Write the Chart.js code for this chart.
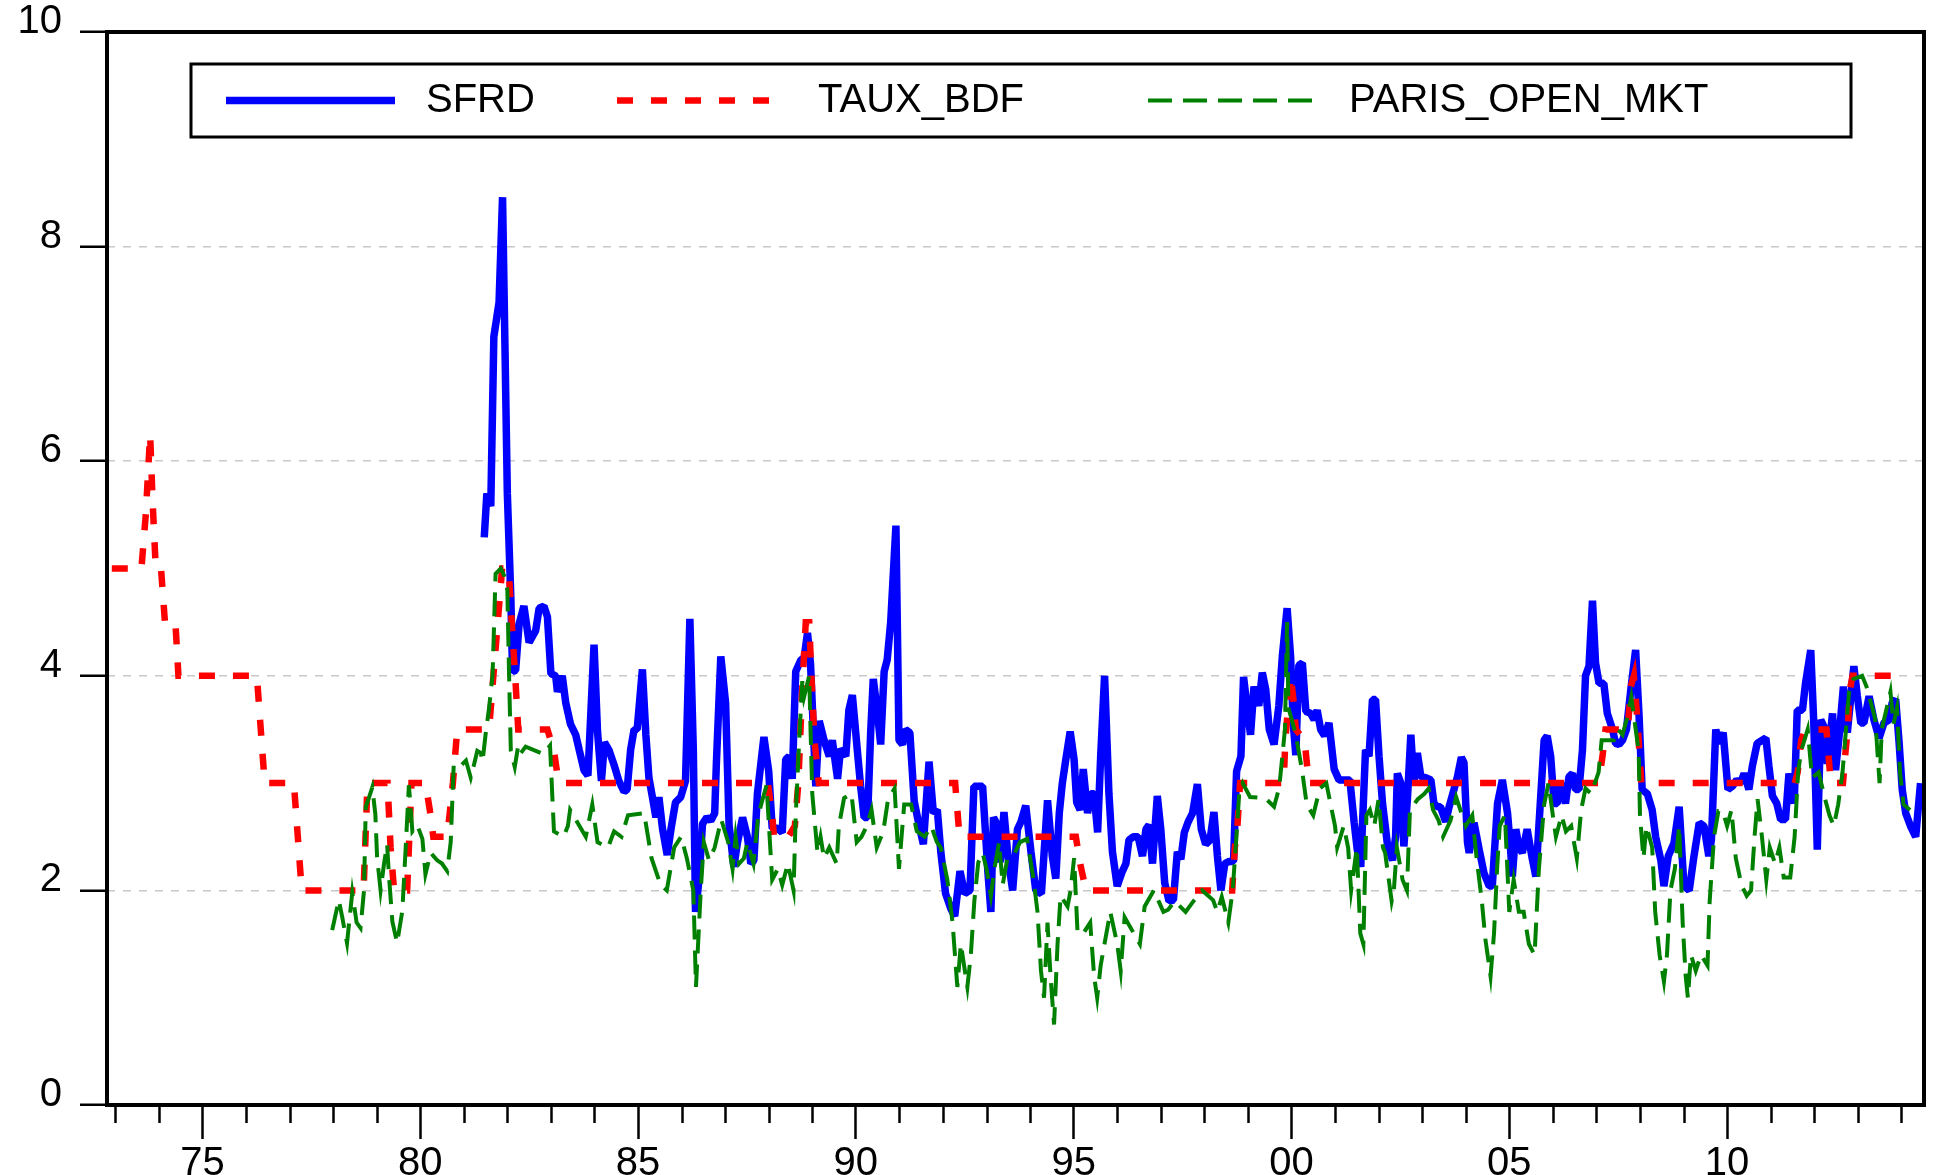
<!DOCTYPE html>
<html lang="en">
<head>
    <meta charset="UTF-8">
    <title>SFRD / TAUX_BDF / PARIS_OPEN_MKT</title>
    <script src="https://cdn.jsdelivr.net/npm/chart.js"></script>
    <style>
        body { margin: 0; background: #ffffff; }
        canvas { display: block; }
    </style>
</head>
<body>
    <canvas id="rateChart" width="1935" height="1175"></canvas>
    <script>
        // observation dates are decimal years, values in percent
        const sfrdDates = [
            1981.47, 1981.53, 1981.62, 1981.69, 1981.81, 1981.89, 1982.00, 1982.08, 1982.12, 1982.19,
            1982.27, 1982.38, 1982.50, 1982.65, 1982.73, 1982.84, 1982.92, 1983.00, 1983.11, 1983.15,
            1983.26, 1983.34, 1983.45, 1983.57, 1983.65, 1983.76, 1983.85, 1983.99, 1984.07, 1984.16,
            1984.23, 1984.33, 1984.45, 1984.56, 1984.68, 1984.75, 1984.83, 1984.91, 1984.98, 1985.10,
            1985.18, 1985.25, 1985.33, 1985.41, 1985.48, 1985.56, 1985.67, 1985.76, 1985.86, 1985.98,
            1986.09, 1986.19, 1986.27, 1986.32, 1986.40, 1986.48, 1986.58, 1986.67, 1986.76, 1986.80,
            1986.90, 1987.01, 1987.09, 1987.20, 1987.28, 1987.40, 1987.51, 1987.59, 1987.66, 1987.74,
            1987.89, 1988.00, 1988.08, 1988.20, 1988.31, 1988.39, 1988.47, 1988.54, 1988.62, 1988.74,
            1988.81, 1988.89, 1988.96, 1989.08, 1989.16, 1989.27, 1989.39, 1989.46, 1989.58, 1989.65,
            1989.77, 1989.84, 1989.92, 1990.04, 1990.11, 1990.19, 1990.27, 1990.34, 1990.40, 1990.49,
            1990.57, 1990.65, 1990.72, 1990.80, 1990.92, 1990.99, 1991.07, 1991.14, 1991.24, 1991.34,
            1991.45, 1991.55, 1991.68, 1991.78, 1991.87, 1991.95, 1992.06, 1992.18, 1992.27, 1992.39,
            1992.50, 1992.62, 1992.71, 1992.91, 1993.03, 1993.10, 1993.16, 1993.25, 1993.31, 1993.40,
            1993.50, 1993.60, 1993.71, 1993.79, 1993.90, 1994.02, 1994.13, 1994.26, 1994.40, 1994.51,
            1994.59, 1994.67, 1994.74, 1994.82, 1994.92, 1995.01, 1995.07, 1995.15, 1995.22, 1995.32,
            1995.39, 1995.47, 1995.55, 1995.62, 1995.71, 1995.81, 1995.89, 1996.00, 1996.12, 1996.20,
            1996.27, 1996.37, 1996.48, 1996.58, 1996.66, 1996.73, 1996.81, 1996.92, 1997.00, 1997.09,
            1997.19, 1997.29, 1997.38, 1997.46, 1997.54, 1997.63, 1997.73, 1997.84, 1997.93, 1998.03,
            1998.13, 1998.22, 1998.30, 1998.38, 1998.47, 1998.57, 1998.67, 1998.74, 1998.84, 1998.90,
            1998.99, 1999.06, 1999.14, 1999.25, 1999.33, 1999.41, 1999.49, 1999.60, 1999.71, 1999.79,
            1999.90, 1999.98, 2000.04, 2000.10, 2000.17, 2000.25, 2000.33, 2000.44, 2000.52, 2000.59,
            2000.67, 2000.76, 2000.86, 2000.98, 2001.09, 2001.24, 2001.34, 2001.44, 2001.51, 2001.59,
            2001.70, 2001.78, 2001.86, 2001.93, 2002.01, 2002.09, 2002.20, 2002.32, 2002.39, 2002.43,
            2002.51, 2002.58, 2002.66, 2002.74, 2002.81, 2002.89, 2002.97, 2003.08, 2003.20, 2003.27,
            2003.35, 2003.42, 2003.54, 2003.62, 2003.73, 2003.81, 2003.90, 2003.96, 2004.04, 2004.08,
            2004.19, 2004.31, 2004.42, 2004.54, 2004.61, 2004.73, 2004.84, 2004.96, 2005.03, 2005.07,
            2005.15, 2005.22, 2005.30, 2005.41, 2005.53, 2005.61, 2005.68, 2005.80, 2005.87, 2005.95,
            2006.03, 2006.10, 2006.18, 2006.29, 2006.37, 2006.45, 2006.52, 2006.60, 2006.68, 2006.75,
            2006.83, 2006.91, 2006.98, 2007.06, 2007.17, 2007.25, 2007.37, 2007.44, 2007.52, 2007.60,
            2007.69, 2007.79, 2007.90, 2007.98, 2008.05, 2008.17, 2008.28, 2008.36, 2008.48, 2008.55,
            2008.65, 2008.78, 2008.90, 2009.01, 2009.13, 2009.24, 2009.36, 2009.47, 2009.58, 2009.64,
            2009.74, 2009.81, 2009.91, 2010.02, 2010.12, 2010.22, 2010.31, 2010.39, 2010.50, 2010.58,
            2010.69, 2010.77, 2010.89, 2010.96, 2011.04, 2011.14, 2011.23, 2011.34, 2011.42, 2011.54,
            2011.61, 2011.73, 2011.80, 2011.92, 2011.99, 2012.07, 2012.15, 2012.22, 2012.30, 2012.42,
            2012.49, 2012.57, 2012.67, 2012.76, 2012.91, 2012.99, 2013.07, 2013.14, 2013.26, 2013.37,
            2013.49, 2013.60, 2013.72, 2013.79, 2013.87, 2013.95, 2014.02, 2014.10, 2014.21, 2014.33,
            2014.44
        ];
        const sfrdValues = [
            5.29, 5.70, 5.58, 7.16, 7.48, 8.46, 5.70, 4.73, 4.04, 4.05,
            4.48, 4.65, 4.31, 4.42, 4.63, 4.65, 4.55, 4.02, 4.00, 3.85,
            4.00, 3.75, 3.55, 3.45, 3.31, 3.12, 3.07, 4.29, 3.48, 3.02,
            3.38, 3.31, 3.17, 3.02, 2.92, 2.94, 3.31, 3.50, 3.50, 4.06,
            3.45, 3.05, 2.87, 2.68, 2.87, 2.58, 2.33, 2.58, 2.82, 2.87,
            3.02, 4.53, 3.30, 1.80, 2.10, 2.62, 2.68, 2.65, 2.72, 3.20,
            4.18, 3.75, 2.61, 2.22, 2.44, 2.68, 2.50, 2.25, 2.28, 2.90,
            3.43, 3.11, 2.58, 2.58, 2.54, 3.22, 3.25, 3.04, 4.04, 4.15,
            4.16, 4.40, 4.11, 2.97, 3.58, 3.40, 3.25, 3.40, 3.04, 3.32,
            3.25, 3.68, 3.82, 3.28, 2.97, 2.68, 2.68, 3.47, 3.97, 3.68,
            3.36, 4.04, 4.15, 4.50, 5.40, 3.40, 3.36, 3.50, 3.47, 2.83,
            2.61, 2.43, 3.20, 2.72, 2.75, 2.36, 1.97, 1.83, 1.76, 2.18,
            1.97, 2.00, 2.97, 2.97, 2.18, 1.80, 2.68, 2.61, 2.26, 2.73,
            2.28, 2.00, 2.57, 2.64, 2.79, 2.36, 2.00, 1.97, 2.84, 2.32,
            2.11, 2.72, 3.00, 3.22, 3.48, 3.22, 2.82, 2.75, 3.13, 2.72,
            2.90, 2.90, 2.54, 3.25, 4.00, 2.90, 2.36, 2.04, 2.18, 2.25,
            2.47, 2.50, 2.50, 2.32, 2.57, 2.61, 2.25, 2.88, 2.57, 2.07,
            1.90, 1.91, 2.36, 2.29, 2.54, 2.64, 2.72, 2.99, 2.57, 2.43,
            2.47, 2.73, 2.32, 2.00, 2.25, 2.27, 2.27, 3.11, 3.25, 3.99,
            3.68, 3.45, 3.90, 3.72, 4.03, 3.87, 3.50, 3.36, 3.72, 4.18,
            4.63, 4.18, 3.56, 3.26, 4.10, 4.12, 3.67, 3.65, 3.59, 3.68,
            3.50, 3.44, 3.56, 3.13, 3.03, 3.03, 3.03, 2.63, 2.38, 2.22,
            3.31, 3.25, 3.78, 3.78, 3.25, 2.81, 2.44, 2.28, 2.50, 3.09,
            3.00, 2.41, 2.84, 3.45, 3.00, 3.28, 3.06, 3.05, 3.03, 2.81,
            2.78, 2.78, 2.64, 2.78, 2.94, 3.06, 3.24, 3.19, 2.45, 2.35,
            2.63, 2.38, 2.16, 2.04, 2.04, 2.81, 3.03, 2.72, 2.38, 2.13,
            2.57, 2.41, 2.35, 2.57, 2.29, 2.13, 2.60, 3.40, 3.44, 3.25,
            2.81, 2.81, 3.00, 2.81, 3.06, 3.09, 2.94, 2.94, 3.31, 4.00,
            4.09, 4.70, 4.12, 3.93, 3.93, 3.65, 3.50, 3.37, 3.36, 3.40,
            3.50, 3.87, 4.24, 3.62, 2.94, 2.90, 2.75, 2.50, 2.28, 2.04,
            2.32, 2.44, 2.78, 2.04, 2.00, 2.32, 2.63, 2.60, 2.32, 2.47,
            3.50, 3.37, 3.47, 2.94, 2.97, 3.03, 3.00, 3.09, 2.94, 3.16,
            3.37, 3.39, 3.42, 3.16, 2.88, 2.81, 2.66, 2.66, 3.09, 2.81,
            3.68, 3.68, 3.93, 4.24, 3.56, 2.38, 3.59, 3.53, 3.18, 3.65,
            3.12, 3.43, 3.90, 3.47, 4.09, 3.81, 3.56, 3.56, 3.81, 3.59,
            3.42, 3.56, 3.59, 3.75, 3.78, 3.37, 2.94, 2.72, 2.60, 2.50,
            3.00
        ];

        const tauxDates = [
            1972.92, 1973.60, 1973.70, 1973.80, 1973.86, 1973.93, 1974.05, 1974.14, 1974.38, 1974.45,
            1976.25, 1976.34, 1976.43, 1977.10, 1977.28, 1978.70, 1978.79, 1979.25, 1979.32, 1979.40,
            1979.70, 1979.80, 1980.12, 1980.22, 1980.30, 1980.62, 1980.75, 1980.85, 1981.58, 1981.68,
            1981.78, 1981.88, 1982.03, 1982.10, 1982.18, 1982.25, 1982.92, 1983.07, 1983.16, 1983.25,
            1987.98, 1988.08, 1988.12, 1988.45, 1988.60, 1988.68, 1988.76, 1988.85, 1988.93, 1988.98,
            1989.05, 1989.15, 1992.28, 1992.33, 1992.38, 1995.05, 1995.15, 1995.28, 1998.64, 1998.70,
            1998.76, 1998.82, 1999.82, 1999.86, 1999.92, 1999.98, 2000.04, 2000.10, 2000.30, 2000.40,
            2007.05, 2007.14, 2007.21, 2007.72, 2007.79, 2007.86, 2007.92, 2007.97, 2008.03, 2011.55,
            2011.62, 2011.70, 2011.80, 2012.28, 2012.32, 2012.38, 2012.66, 2012.72, 2012.77, 2012.81,
            2012.88, 2013.90
        ];
        const tauxValues = [
            5.0, 5.0, 5.5, 6.25, 5.6, 5.0, 5.0, 4.5, 4.5, 4.0,
            4.0, 3.5, 3.0, 3.0, 2.0, 2.0, 3.0, 3.0, 2.4, 2.0,
            2.0, 3.0, 3.0, 2.75, 2.5, 2.5, 3.0, 3.5, 3.5, 4.0,
            4.5, 5.0, 5.0, 4.5, 4.0, 3.5, 3.5, 3.3, 3.05, 3.0,
            3.0, 2.7, 2.5, 2.5, 2.6, 3.0, 3.8, 4.5, 4.5, 4.0,
            3.4, 3.0, 3.0, 2.75, 2.5, 2.5, 2.25, 2.0, 2.0, 2.4,
            2.6, 3.0, 3.0, 3.4, 3.7, 4.0, 3.8, 3.5, 3.4, 3.0,
            3.0, 3.25, 3.5, 3.5, 3.9, 4.0, 3.7, 3.4, 3.0, 3.0,
            3.1, 3.4, 3.5, 3.5, 3.3, 3.0, 3.0, 3.3, 3.5, 3.85,
            4.0, 4.0
        ];

        const parisDates = [
            1977.98, 1978.13, 1978.21, 1978.32, 1978.44, 1978.54, 1978.63, 1978.71, 1978.75, 1978.82,
            1978.90, 1978.97, 1979.01, 1979.09, 1979.17, 1979.24, 1979.28, 1979.36, 1979.47, 1979.59,
            1979.66, 1979.74, 1979.82, 1979.93, 1980.05, 1980.12, 1980.24, 1980.39, 1980.50, 1980.62,
            1980.70, 1980.77, 1980.93, 1981.05, 1981.16, 1981.24, 1981.31, 1981.39, 1981.43, 1981.50,
            1981.58, 1981.66, 1981.69, 1981.73, 1981.85, 1981.93, 1982.00, 1982.04, 1982.08, 1982.17,
            1982.25, 1982.31, 1982.42, 1982.83, 1982.98, 1983.03, 1983.07, 1983.29, 1983.39, 1983.44,
            1983.80, 1983.95, 1984.07, 1984.31, 1984.45, 1984.62, 1984.77, 1985.14, 1985.31, 1985.52,
            1985.66, 1985.83, 1985.99, 1986.12, 1986.27, 1986.33, 1986.44, 1986.51, 1986.63, 1986.76,
            1986.91, 1987.07, 1987.17, 1987.24, 1987.32, 1987.43, 1987.51, 1987.65, 1987.76, 1987.86,
            1987.95, 1988.05, 1988.08, 1988.21, 1988.31, 1988.44, 1988.57, 1988.62, 1988.70, 1988.77,
            1988.81, 1988.93, 1988.96, 1989.00, 1989.12, 1989.19, 1989.27, 1989.39, 1989.56, 1989.61,
            1989.73, 1989.90, 1990.02, 1990.13, 1990.25, 1990.36, 1990.48, 1990.63, 1990.74, 1990.89,
            1990.99, 1991.11, 1991.27, 1991.40, 1991.58, 1991.73, 1991.86, 1991.95, 1992.10, 1992.22,
            1992.33, 1992.41, 1992.56, 1992.64, 1992.72, 1992.81, 1992.91, 1993.00, 1993.10, 1993.18,
            1993.29, 1993.37, 1993.48, 1993.65, 1993.77, 1993.93, 1994.08, 1994.17, 1994.25, 1994.32,
            1994.40, 1994.47, 1994.55, 1994.63, 1994.70, 1994.86, 1994.93, 1995.01, 1995.09, 1995.22,
            1995.38, 1995.47, 1995.54, 1995.62, 1995.84, 1996.00, 1996.08, 1996.17, 1996.52, 1996.63,
            1996.84, 1997.06, 1997.17, 1997.32, 1997.57, 1997.75, 1997.95, 1998.20, 1998.30, 1998.40,
            1998.55, 1998.65, 1998.72, 1998.80, 1998.88, 1999.05, 1999.40, 1999.60, 1999.72, 1999.85,
            1999.90, 1999.93, 2000.00, 2000.10, 2000.25, 2000.35, 2000.50, 2000.65, 2000.80, 2001.00,
            2001.05, 2001.20, 2001.30, 2001.37, 2001.50, 2001.58, 2001.65, 2001.72, 2001.80, 2001.90,
            2002.00, 2002.10, 2002.15, 2002.30, 2002.35, 2002.42, 2002.55, 2002.65, 2002.72, 2002.90,
            2003.05, 2003.15, 2003.25, 2003.38, 2003.48, 2003.65, 2003.78, 2004.00, 2004.15, 2004.25,
            2004.37, 2004.45, 2004.57, 2004.65, 2004.72, 2004.78, 2004.90, 2005.00, 2005.10, 2005.22,
            2005.33, 2005.45, 2005.58, 2005.68, 2005.80, 2005.90, 2006.00, 2006.07, 2006.20, 2006.30,
            2006.42, 2006.55, 2006.65, 2006.75, 2006.88, 2007.05, 2007.12, 2007.40, 2007.50, 2007.60,
            2007.70, 2007.80, 2007.97, 2008.00, 2008.08, 2008.15, 2008.28, 2008.35, 2008.45, 2008.55,
            2008.62, 2008.70, 2008.80, 2008.90, 2008.98, 2009.05, 2009.10, 2009.17, 2009.28, 2009.40,
            2009.55, 2009.60, 2009.70, 2009.80, 2009.90, 2010.00, 2010.10, 2010.20, 2010.33, 2010.45,
            2010.55, 2010.63, 2010.70, 2010.80, 2010.90, 2010.98, 2011.10, 2011.20, 2011.30, 2011.45,
            2011.55, 2011.63, 2011.70, 2011.85, 2011.95, 2012.10, 2012.25, 2012.35, 2012.45, 2012.55,
            2012.65, 2012.73, 2012.80, 2012.90, 2013.10, 2013.20, 2013.40, 2013.50, 2013.55, 2013.75,
            2013.82, 2013.90, 2013.97, 2014.05, 2014.20
        ];
        const parisValues = [
            1.63, 1.91, 1.75, 1.51, 1.98, 1.70, 1.65, 2.00, 2.78, 2.86,
            2.96, 2.71, 2.31, 2.00, 2.25, 2.43, 2.15, 1.71, 1.51, 1.81,
            2.35, 2.98, 2.55, 2.61, 2.48, 2.15, 2.35, 2.28, 2.25, 2.18,
            2.45, 3.18, 3.16, 3.21, 3.05, 3.18, 3.30, 3.28, 3.20, 3.45,
            3.70, 4.00, 4.40, 4.95, 5.00, 4.93, 4.80, 4.00, 3.30, 3.15,
            3.35, 3.28, 3.34, 3.27, 3.35, 2.90, 2.55, 2.50, 2.60, 2.75,
            2.50, 2.80, 2.45, 2.40, 2.55, 2.50, 2.70, 2.72, 2.30, 2.05,
            2.00, 2.40, 2.50, 2.30, 2.00, 1.10, 2.00, 2.45, 2.28, 2.40,
            2.66, 2.45, 2.20, 2.50, 2.25, 2.30, 2.45, 2.25, 2.70, 2.85,
            2.98, 2.30, 2.10, 2.20, 2.05, 2.25, 2.00, 2.70, 3.40, 3.95,
            3.80, 4.00, 3.50, 2.90, 2.35, 2.50, 2.30, 2.40, 2.25, 2.60,
            2.86, 2.90, 2.45, 2.50, 2.60, 2.75, 2.40, 2.55, 2.85, 2.95,
            2.20, 2.80, 2.80, 2.55, 2.50, 2.60, 2.45, 2.40, 2.10, 1.70,
            1.10, 1.50, 1.10, 1.40, 1.90, 2.26, 2.35, 2.20, 1.95, 2.20,
            2.45, 2.05, 2.30, 2.35, 2.45, 2.48, 2.10, 1.80, 1.25, 1.00,
            1.70, 1.20, 0.75, 1.50, 1.95, 1.85, 2.00, 2.30, 1.60, 1.60,
            1.70, 1.20, 1.00, 1.30, 1.80, 1.50, 1.25, 1.75, 1.50, 1.85,
            2.00, 1.80, 1.82, 1.90, 1.80, 1.90, 2.00, 1.91, 1.80, 1.94,
            1.70, 2.00, 2.40, 2.90, 3.00, 2.87, 2.86, 2.78, 2.96, 3.50,
            4.50, 3.70, 3.60, 3.45, 3.10, 2.80, 2.70, 2.95, 3.00, 2.60,
            2.40, 2.60, 2.40, 2.00, 2.40, 1.60, 1.50, 2.70, 2.75, 2.60,
            2.85, 2.40, 2.35, 1.90, 2.00, 2.40, 2.10, 2.00, 2.75, 2.85,
            2.90, 2.95, 2.75, 2.65, 2.50, 2.65, 2.87, 2.60, 2.70, 2.30,
            1.90, 1.55, 1.20, 1.60, 2.20, 2.60, 2.70, 1.80, 2.10, 1.80,
            1.80, 1.50, 1.40, 2.20, 2.80, 3.00, 2.70, 2.50, 2.70, 2.55,
            2.60, 2.30, 2.75, 2.95, 2.90, 3.10, 3.40, 3.40, 3.50, 3.45,
            3.60, 3.80, 3.30, 2.70, 2.30, 2.60, 2.40, 1.80, 1.40, 1.15,
            1.40, 2.00, 2.20, 2.60, 1.70, 1.20, 1.00, 1.40, 1.25, 1.40,
            1.30, 1.90, 2.50, 2.74, 2.74, 2.60, 2.75, 2.30, 2.05, 1.95,
            2.00, 2.50, 2.85, 2.50, 2.10, 2.40, 2.25, 2.40, 2.12, 2.12,
            2.50, 3.10, 3.30, 3.50, 3.05, 3.10, 2.85, 2.70, 2.60, 2.80,
            3.10, 3.50, 3.85, 3.97, 4.00, 3.90, 3.60, 3.00, 3.50, 3.85,
            3.55, 3.70, 3.10, 2.80, 2.75
        ];

        const seriesNames = ['SFRD', 'TAUX_BDF', 'PARIS_OPEN_MKT'];
        const yTickValues = [0, 2, 4, 6, 8, 10];
        const labelYears = [1975, 1980, 1985, 1990, 1995, 2000, 2005, 2010];
        const firstYear = 1973;
        const lastYear = 2014;

        const yearTicks = [];
        for (let y = firstYear; y <= lastYear; y++) yearTicks.push(y);

        function toPoints(dates, values) {
            return dates.map((x, i) => ({ x: x, y: values[i] }));
        }

        const fontFamily = "'Liberation Sans', Arial, sans-serif";

        // white page behind everything
        const whiteBackground = {
            id: 'whiteBackground',
            beforeDraw(chart) {
                const ctx = chart.ctx;
                ctx.save();
                ctx.fillStyle = '#ffffff';
                ctx.fillRect(0, 0, chart.width, chart.height);
                ctx.restore();
            }
        };

        // black frame round the plot and the short yearly ticks
        const frameAndMinorTicks = {
            id: 'frameAndMinorTicks',
            afterDatasetsDraw(chart) {
                const ctx = chart.ctx;
                const area = chart.chartArea;
                const xScale = chart.scales.x;
                ctx.save();
                ctx.strokeStyle = '#000000';
                ctx.lineWidth = 4;
                ctx.strokeRect(area.left, area.top, area.right - area.left, area.bottom - area.top);
                ctx.lineWidth = 2.5;
                yearTicks.forEach(year => {
                    if (labelYears.includes(year)) return;
                    const px = Math.round(xScale.getPixelForValue(year)) + 0.5;
                    ctx.beginPath();
                    ctx.moveTo(px, area.bottom);
                    ctx.lineTo(px, area.bottom + 18);
                    ctx.stroke();
                });
                ctx.restore();
            }
        };

        // boxed legend inside the top of the plot, EViews style
        const boxLegend = {
            id: 'boxLegend',
            afterDraw(chart) {
                const ctx = chart.ctx;
                const box = { left: 191, top: 64, width: 1660, height: 73 };
                const slots = [
                    { from: 226, to: 395, text: 426 },
                    { from: 617, to: 784, text: 818 },
                    { from: 1148, to: 1314, text: 1349 }
                ];
                const midY = box.top + box.height / 2;
                ctx.save();
                ctx.fillStyle = '#ffffff';
                ctx.fillRect(box.left, box.top, box.width, box.height);
                ctx.strokeStyle = '#000000';
                ctx.lineWidth = 3;
                ctx.strokeRect(box.left, box.top, box.width, box.height);
                chart.data.datasets.forEach((ds, i) => {
                    const slot = slots[i];
                    ctx.beginPath();
                    ctx.setLineDash(ds.borderDash || []);
                    ctx.strokeStyle = ds.borderColor;
                    ctx.lineWidth = ds.borderWidth;
                    ctx.moveTo(slot.from, midY);
                    ctx.lineTo(slot.to, midY);
                    ctx.stroke();
                    ctx.setLineDash([]);
                    ctx.fillStyle = '#000000';
                    ctx.font = '40px ' + fontFamily;
                    ctx.textBaseline = 'middle';
                    ctx.textAlign = 'left';
                    ctx.fillText(ds.label, slot.text, midY);
                });
                ctx.restore();
            }
        };

        const ctx = document.getElementById('rateChart').getContext('2d');
        new Chart(ctx, {
            type: 'line',
            data: {
                datasets: [
                    {
                        label: seriesNames[0],
                        data: toPoints(sfrdDates, sfrdValues),
                        borderColor: '#0000ff',
                        borderWidth: 7.5,
                        borderJoinStyle: 'bevel',
                        pointRadius: 0,
                        fill: false,
                        tension: 0,
                        order: 3
                    },
                    {
                        label: seriesNames[1],
                        data: toPoints(tauxDates, tauxValues),
                        borderColor: '#ff0000',
                        borderWidth: 6.5,
                        borderDash: [16, 18],
                        pointRadius: 0,
                        fill: false,
                        tension: 0,
                        order: 2
                    },
                    {
                        label: seriesNames[2],
                        data: toPoints(parisDates, parisValues),
                        borderColor: '#008000',
                        borderWidth: 4,
                        borderDash: [24, 11],
                        pointRadius: 0,
                        fill: false,
                        tension: 0,
                        order: 1
                    }
                ]
            },
            options: {
                responsive: false,
                animation: false,
                devicePixelRatio: 1,
                layout: { padding: { left: 0, top: 32, right: 11, bottom: 0 } },
                plugins: {
                    legend: { display: false },
                    tooltip: { enabled: false }
                },
                scales: {
                    x: {
                        type: 'linear',
                        min: 1972.81,
                        max: 2014.52,
                        afterBuildTicks: scale => {
                            scale.ticks = yearTicks.map(value => ({ value: value }));
                        },
                        afterFit: scale => {
                            scale.height = 70;
                            scale.paddingLeft = 0;
                            scale.paddingRight = 0;
                        },
                        ticks: {
                            autoSkip: false,
                            maxRotation: 0,
                            padding: 1,
                            color: '#000000',
                            font: { family: fontFamily, size: 40 },
                            callback: value => labelYears.includes(value)
                                ? String(value % 100).padStart(2, '0') : ''
                        },
                        grid: {
                            drawOnChartArea: false,
                            drawTicks: true,
                            tickLength: 34,
                            tickWidth: 2.5,
                            tickColor: c => (c.tick && labelYears.includes(c.tick.value))
                                ? '#000000' : 'rgba(0,0,0,0)'
                        },
                        border: { display: false }
                    },
                    y: {
                        min: 0,
                        max: 10,
                        afterBuildTicks: scale => {
                            scale.ticks = yTickValues.map(value => ({ value: value }));
                        },
                        afterFit: scale => {
                            scale.width = 107;
                            scale.paddingTop = 0;
                            scale.paddingBottom = 0;
                        },
                        ticks: {
                            padding: 18,
                            labelOffset: -10,
                            color: '#000000',
                            font: { family: fontFamily, size: 40 }
                        },
                        grid: {
                            color: c => (c.tick && (c.tick.value === 0 || c.tick.value === 10))
                                ? 'rgba(0,0,0,0)' : '#c8c8c8',
                            lineWidth: 1.5,
                            tickLength: 27,
                            tickWidth: 2.5,
                            tickColor: '#000000'
                        },
                        border: { display: false, dash: [8, 8] }
                    }
                }
            },
            plugins: [whiteBackground, frameAndMinorTicks, boxLegend]
        });
    </script>
</body>
</html>
